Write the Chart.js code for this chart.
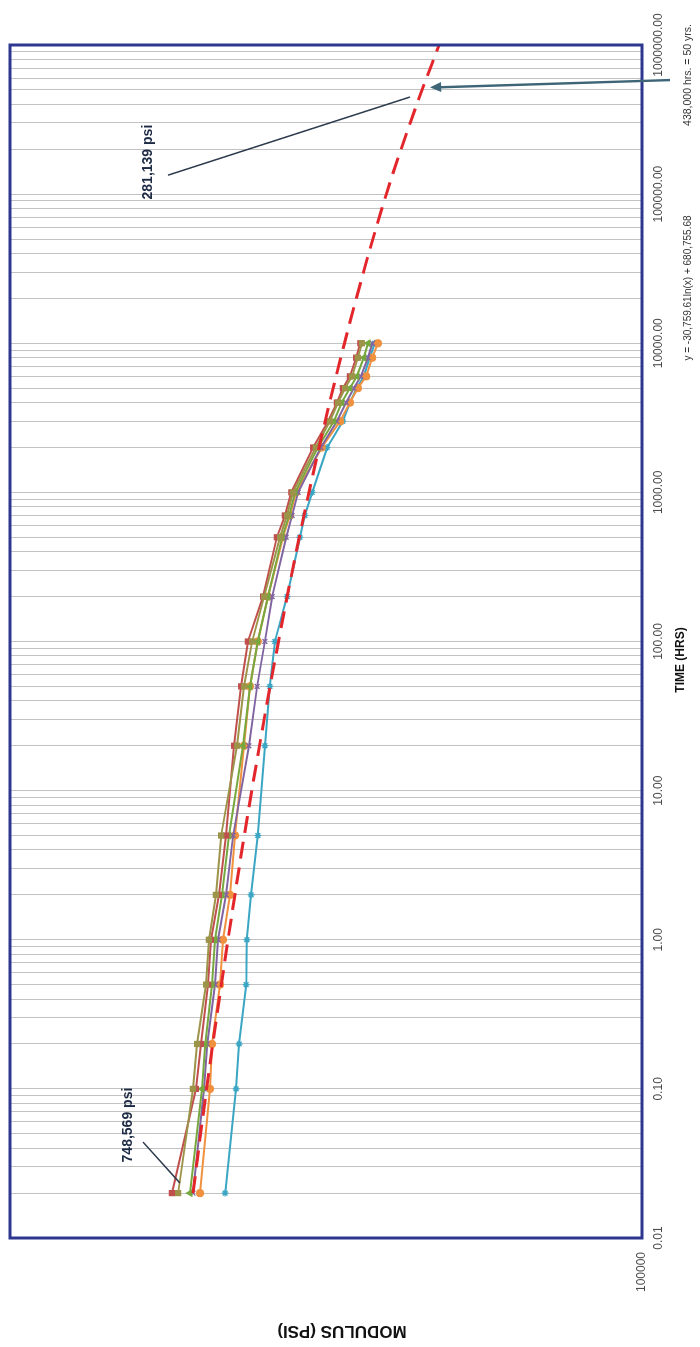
<!DOCTYPE html>
<html>
<head>
<meta charset="utf-8">
<title>Modulus vs time</title>
<script src="https://cdn.jsdelivr.net/npm/chart.js@4.4.1/dist/chart.umd.min.js"></script>
<style>
  html, body { margin: 0; padding: 0; background: #fff; }
  body { width: 700px; height: 1347px; overflow: hidden; position: relative; }
  /* the scan is a landscape chart turned a quarter turn counter-clockwise */
  #wrap {
    position: absolute; left: 0; top: 0;
    width: 1347px; height: 700px;
    transform-origin: 0 0;
    transform: translateY(1347px) rotate(-90deg);
  }
  #chart { display: block; }
</style>
</head>
<body>
<div id="wrap"><canvas id="chart" width="1347" height="700"></canvas></div>
<script>
// --- data ---
const hours = [0.02, 0.1, 0.2, 0.5, 1, 2, 5, 20, 50, 100, 200, 500, 700, 1000, 2000, 3000, 4000, 5000, 6000, 8000, 10000];

const specimenA = [858000, 801000, 786000, 754000, 744000, 720000, 703000, 653000, 632000, 609000, 576000, 535000, 518000, 504000, 453000, 425000, 409000, 396000, 383000, 373000, 366000];
const specimenB = [883000, 790000, 772000, 747000, 737000, 710000, 687000, 662000, 641000, 621000, 579000, 543000, 523000, 508000, 459000, 428000, 411000, 400000, 387000, 376000, 369000];
const specimenC = [812000, 768000, 757000, 733000, 723000, 700000, 678000, 635000, 615000, 593000, 566000, 530000, 513000, 499000, 449000, 417000, 402000, 387000, 375000, 363000, 356000];
const specimenD = [801000, 761000, 750000, 723000, 713000, 687000, 665000, 618000, 595000, 574000, 555000, 520000, 506000, 492000, 443000, 411000, 394000, 380000, 368000, 356000, 349000];
const specimenE = [775000, 740000, 733000, 707000, 697000, 675000, 659000, 632000, 615000, 593000, 566000, 528000, 511000, 497000, 441000, 405000, 387000, 373000, 359000, 349000, 340000];
const specimenF = [690000, 656000, 647000, 626000, 624000, 612000, 593000, 574000, 561000, 548000, 518000, 488000, 477000, 461000, 430000, 400000, 387000, 375000, 363000, 353000, 345000];

// log trend line
const trendHours = [0.02, 0.1, 1, 10, 100, 1000, 10000, 100000, 438000, 1000000];
const trendModulus = [801000, 752000, 681000, 610000, 539000, 468000, 397000, 327000, 281139, 256000];

// axes
const timeDecades = [0.01, 0.1, 1, 10, 100, 1000, 10000, 100000, 1000000];
const timeDecadeLabels = ['0.01', '0.10', '1.00', '10.00', '100.00', '1000.00', '10000.00', '100000.00', '1000000.00'];
const gridSteps = [1, 2, 3, 4, 5, 6, 7, 8, 9];
const modulusTicks = [100000];
const modulusTickLabels = ['100000'];

const FONT = "'Liberation Sans', Arial, Helvetica, sans-serif";

// grid ticks: every 1..9 x 10^k, label only on the decades
const gridTicks = [];
const gridLabels = [];
timeDecades.forEach((d, i) => {
    if (i === timeDecades.length - 1) {
        gridTicks.push(d);
        gridLabels.push(timeDecadeLabels[i]);
        return;
    }
    gridSteps.forEach(k => {
        gridTicks.push(d * k);
        gridLabels.push(k === 1 ? timeDecadeLabels[i] : '');
    });
});

function series(values, color, style) {
    return {
        data: hours.map((h, i) => ({ x: h, y: values[i] })),
        borderColor: color,
        backgroundColor: color,
        borderWidth: 2,
        pointStyle: style,
        pointRadius: 3.4,
        pointBorderWidth: 1.4,
        pointBorderColor: color,
        pointBackgroundColor: color,
        tension: 0
    };
}

// --- annotations and frame ---
const notes = {
    id: 'notes',
    afterDatasetsDraw(chart) {
        const { ctx, chartArea: a, scales: { x, y } } = chart;
        const at = (t, m) => [x.getPixelForValue(t), y.getPixelForValue(m)];

        ctx.save();
        // plot frame
        ctx.strokeStyle = '#2e3790';
        ctx.lineWidth = 3;
        ctx.strokeRect(a.left, a.top, a.right - a.left, a.bottom - a.top);

        // leader lines
        ctx.strokeStyle = '#2b3a4c';
        ctx.lineWidth = 1.5;
        let p = at(134000, 899000), q = at(448000, 293000);
        ctx.beginPath(); ctx.moveTo(p[0], p[1]); ctx.lineTo(q[0], q[1]); ctx.stroke();
        p = at(0.044, 1010000); q = at(0.0234, 851000);
        ctx.beginPath(); ctx.moveTo(p[0], p[1]); ctx.lineTo(q[0], q[1]); ctx.stroke();

        // arrow to the 50-year point
        const tail = at(582000, 87800), tip = at(520000, 267000);
        ctx.strokeStyle = '#3d6577';
        ctx.fillStyle = '#3d6577';
        ctx.lineWidth = 2.4;
        ctx.beginPath(); ctx.moveTo(tail[0], tail[1]); ctx.lineTo(tip[0], tip[1] + 8); ctx.stroke();
        const ang = Math.atan2(tip[1] - tail[1], tip[0] - tail[0]);
        ctx.beginPath();
        ctx.moveTo(tip[0], tip[1]);
        ctx.lineTo(tip[0] - 11 * Math.cos(ang) + 5 * Math.sin(ang), tip[1] - 11 * Math.sin(ang) - 5 * Math.cos(ang));
        ctx.lineTo(tip[0] - 11 * Math.cos(ang) - 5 * Math.sin(ang), tip[1] - 11 * Math.sin(ang) + 5 * Math.cos(ang));
        ctx.closePath(); ctx.fill();

        // callout values
        ctx.fillStyle = '#1d2b45';
        ctx.font = 'bold 14px ' + FONT;
        ctx.textAlign = 'center';
        ctx.textBaseline = 'middle';
        p = at(164000, 986000);
        ctx.fillText('281,139 psi', p[0], p[1]);
        p = at(0.0572, 1082000);
        ctx.fillText('748,569 psi', p[0], p[1]);

        // axis titles and notes below the time axis
        ctx.fillStyle = '#111';
        ctx.font = 'bold 12px ' + FONT;
        ctx.fillText('TIME (HRS)', 687, 681);
        ctx.fillStyle = '#333';
        ctx.font = '10px ' + FONT;
        ctx.fillText('y = -30,759.61ln(x) + 680,755.68', 1059, 688);
        ctx.font = '10.5px ' + FONT;
        ctx.fillText('438,000 hrs. = 50 yrs.', 1272, 688);

        ctx.translate(16, 342);
        ctx.rotate(-Math.PI / 2);
        ctx.fillStyle = '#111';
        ctx.font = 'bold 17px ' + FONT;
        ctx.fillText('MODULUS (PSI)', 0, 0);
        ctx.restore();
    }
};

new Chart(document.getElementById('chart'), {
    type: 'line',
    data: {
        datasets: [
            {
                data: trendHours.map((h, i) => ({ x: h, y: trendModulus[i] })),
                borderColor: '#e3262b',
                borderWidth: 3,
                borderDash: [17, 9],
                pointRadius: 0,
                cubicInterpolationMode: 'monotone',
                fill: false
            },
            series(specimenA, '#9c9448', 'rect'),
            series(specimenB, '#c0504d', 'rect'),
            series(specimenC, '#77a83f', 'triangle'),
            series(specimenD, '#8064a2', 'crossRot'),
            series(specimenE, '#f0913f', 'circle'),
            series(specimenF, '#3aa6c4', 'star')
        ]
    },
    options: {
        responsive: false,
        animation: false,
        devicePixelRatio: 1,
        layout: { padding: { left: 0, top: 10, right: 45, bottom: 0 } },
        plugins: { legend: { display: false }, tooltip: { enabled: false } },
        scales: {
            x: {
                type: 'logarithmic',
                position: 'bottom',
                min: 0.01,
                max: 1000000,
                afterBuildTicks: s => { s.ticks = gridTicks.map(v => ({ value: v })); },
                afterFit: s => { s.height = 58; s.paddingLeft = 0; s.paddingRight = 0; },
                ticks: {
                    autoSkip: false,
                    maxRotation: 0,
                    minRotation: 0,
                    padding: 9,
                    color: '#4a4a4a',
                    font: { family: FONT, size: 12 },
                    callback: (v, i) => gridLabels[i]
                },
                grid: { color: '#c2c2c2', lineWidth: 1, drawTicks: false },
                border: { display: false }
            },
            y: {
                type: 'logarithmic',
                min: 100000,
                max: 1870000,
                afterBuildTicks: s => { s.ticks = modulusTicks.map(v => ({ value: v })); },
                afterFit: s => { s.width = 109; s.paddingTop = 0; s.paddingBottom = 0; },
                ticks: {
                    padding: 14,
                    color: '#4a4a4a',
                    font: { family: FONT, size: 12 },
                    callback: (v, i) => modulusTickLabels[i]
                },
                grid: { display: false, drawTicks: false },
                border: { display: false }
            }
        }
    },
    plugins: [notes]
});
</script>
</body>
</html>
